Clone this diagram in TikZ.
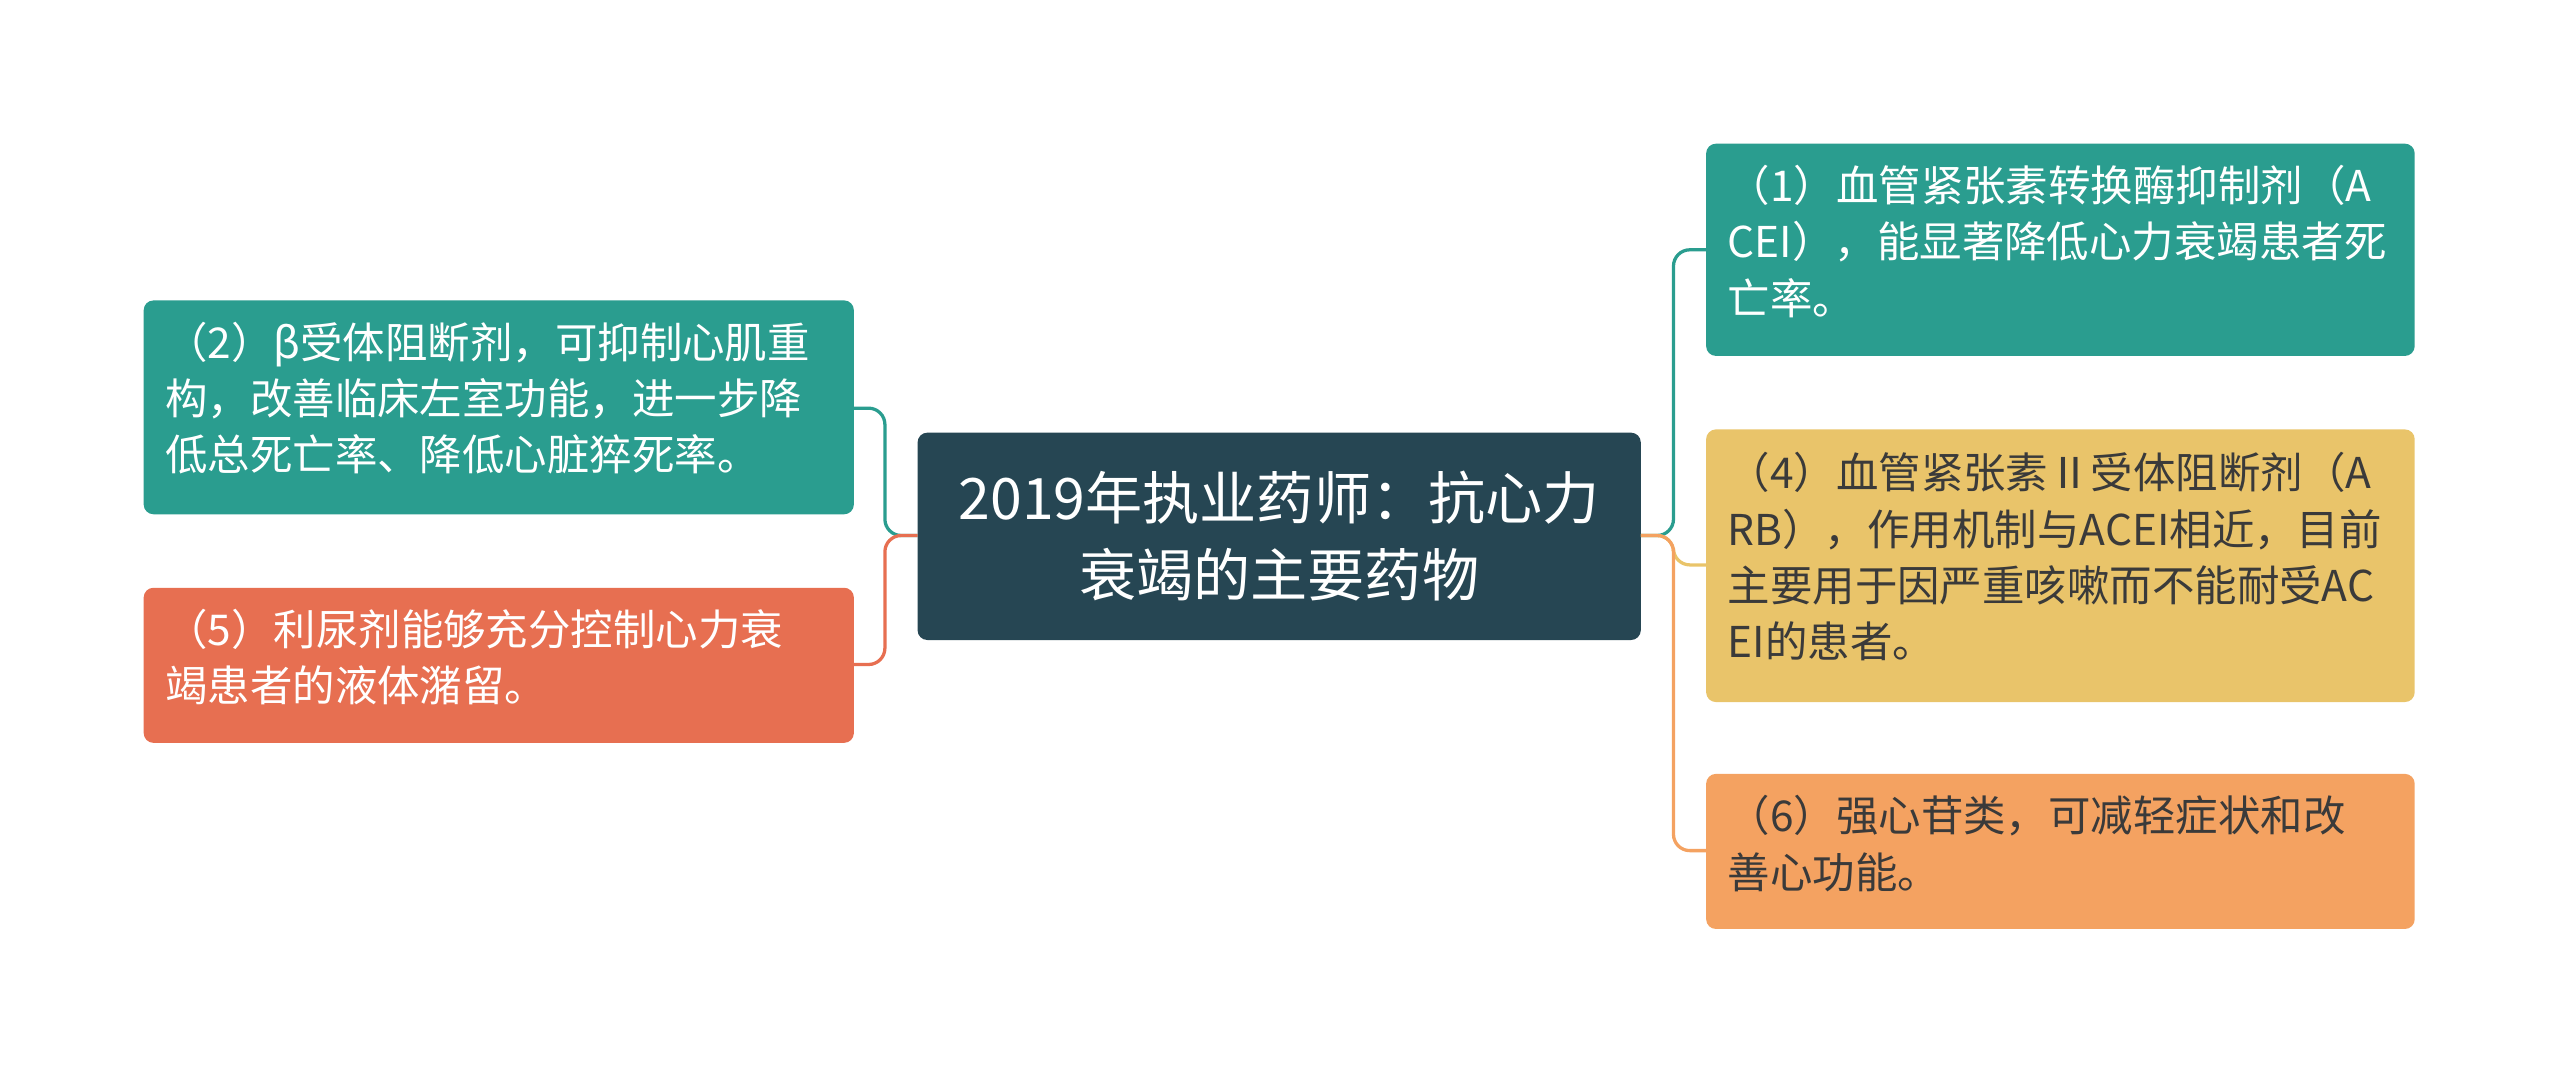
\documentclass[tikz,border=0pt]{standalone}
\usepackage{fontspec}
\setmainfont{Noto Sans CJK SC}
\begin{document}
\begin{tikzpicture}[x=1pt,y=-1pt,
 txt/.style={anchor=north west,align=left,font=\fontsize{26}{34.5}\selectfont,inner sep=0pt},
 conn/.style={line width=2pt,rounded corners=10pt}]
\useasboundingbox (0,0) rectangle (1568,658);
\definecolor{cdark}{HTML}{264653}\definecolor{cteal}{HTML}{2A9D8F}
\definecolor{cred}{HTML}{E76F51}\definecolor{cyel}{HTML}{E9C46A}\definecolor{corg}{HTML}{F4A261}
\definecolor{ctxt}{HTML}{3A3A3A}
\fill[cdark,rounded corners=6pt] (562,265) rectangle (1005,392);
\node (c) at (783.5,328.5) [align=center,text=white,font=\fontsize{35}{47}\selectfont] {2019年执业药师：抗心力\\衰竭的主要药物};
\coordinate (cl) at (562,328); \coordinate (cr) at (1005,328);
\fill[cteal,rounded corners=6pt] (88,184) rectangle (523,315);
\node[txt,text=white] (l1) at (101,197) {（2）β受体阻断剂，可抑制心肌重\\构，改善临床左室功能，进一步降\\低总死亡率、降低心脏猝死率。};
\fill[cred,rounded corners=6pt] (88,360) rectangle (523,455);
\node[txt,text=white] (l2) at (101,373) {（5）利尿剂能够充分控制心力衰\\竭患者的液体潴留。};
\fill[cteal,rounded corners=6pt] (1045,88) rectangle (1479,218);
\node[txt,text=white] (r1) at (1058,101) {（1）血管紧张素转换酶抑制剂（A\\CEI），能显著降低心力衰竭患者死\\亡率。};
\fill[cyel,rounded corners=6pt] (1045,263) rectangle (1479,430);
\node[txt,text=ctxt] (r2) at (1058,277) {（4）血管紧张素Ⅱ受体阻断剂（A\\RB），作用机制与ACEI相近，目前\\主要用于因严重咳嗽而不能耐受AC\\EI的患者。};
\fill[corg,rounded corners=6pt] (1045,474) rectangle (1479,569);
\node[txt,text=ctxt] (r3) at (1058,487) {（6）强心苷类，可减轻症状和改\\善心功能。};
\coordinate (l1e) at (523,250); \coordinate (l2e) at (523,407);
\coordinate (r1e) at (1045,153); \coordinate (r2e) at (1045,346); \coordinate (r3e) at (1045,521);
\draw[conn,cteal] (cl) -- (542,328) -- (542,250) -- (l1e);
\draw[conn,cred] (cl) -- (542,328) -- (542,407) -- (l2e);
\draw[conn,cteal] (cr) -- (1025,328) -- (1025,153) -- (r1e);
\draw[conn,cyel] (cr) -- (1025,328) -- (1025,346) -- (r2e);
\draw[conn,corg] (cr) -- (1025,328) -- (1025,521) -- (r3e);
\end{tikzpicture}
\end{document}
